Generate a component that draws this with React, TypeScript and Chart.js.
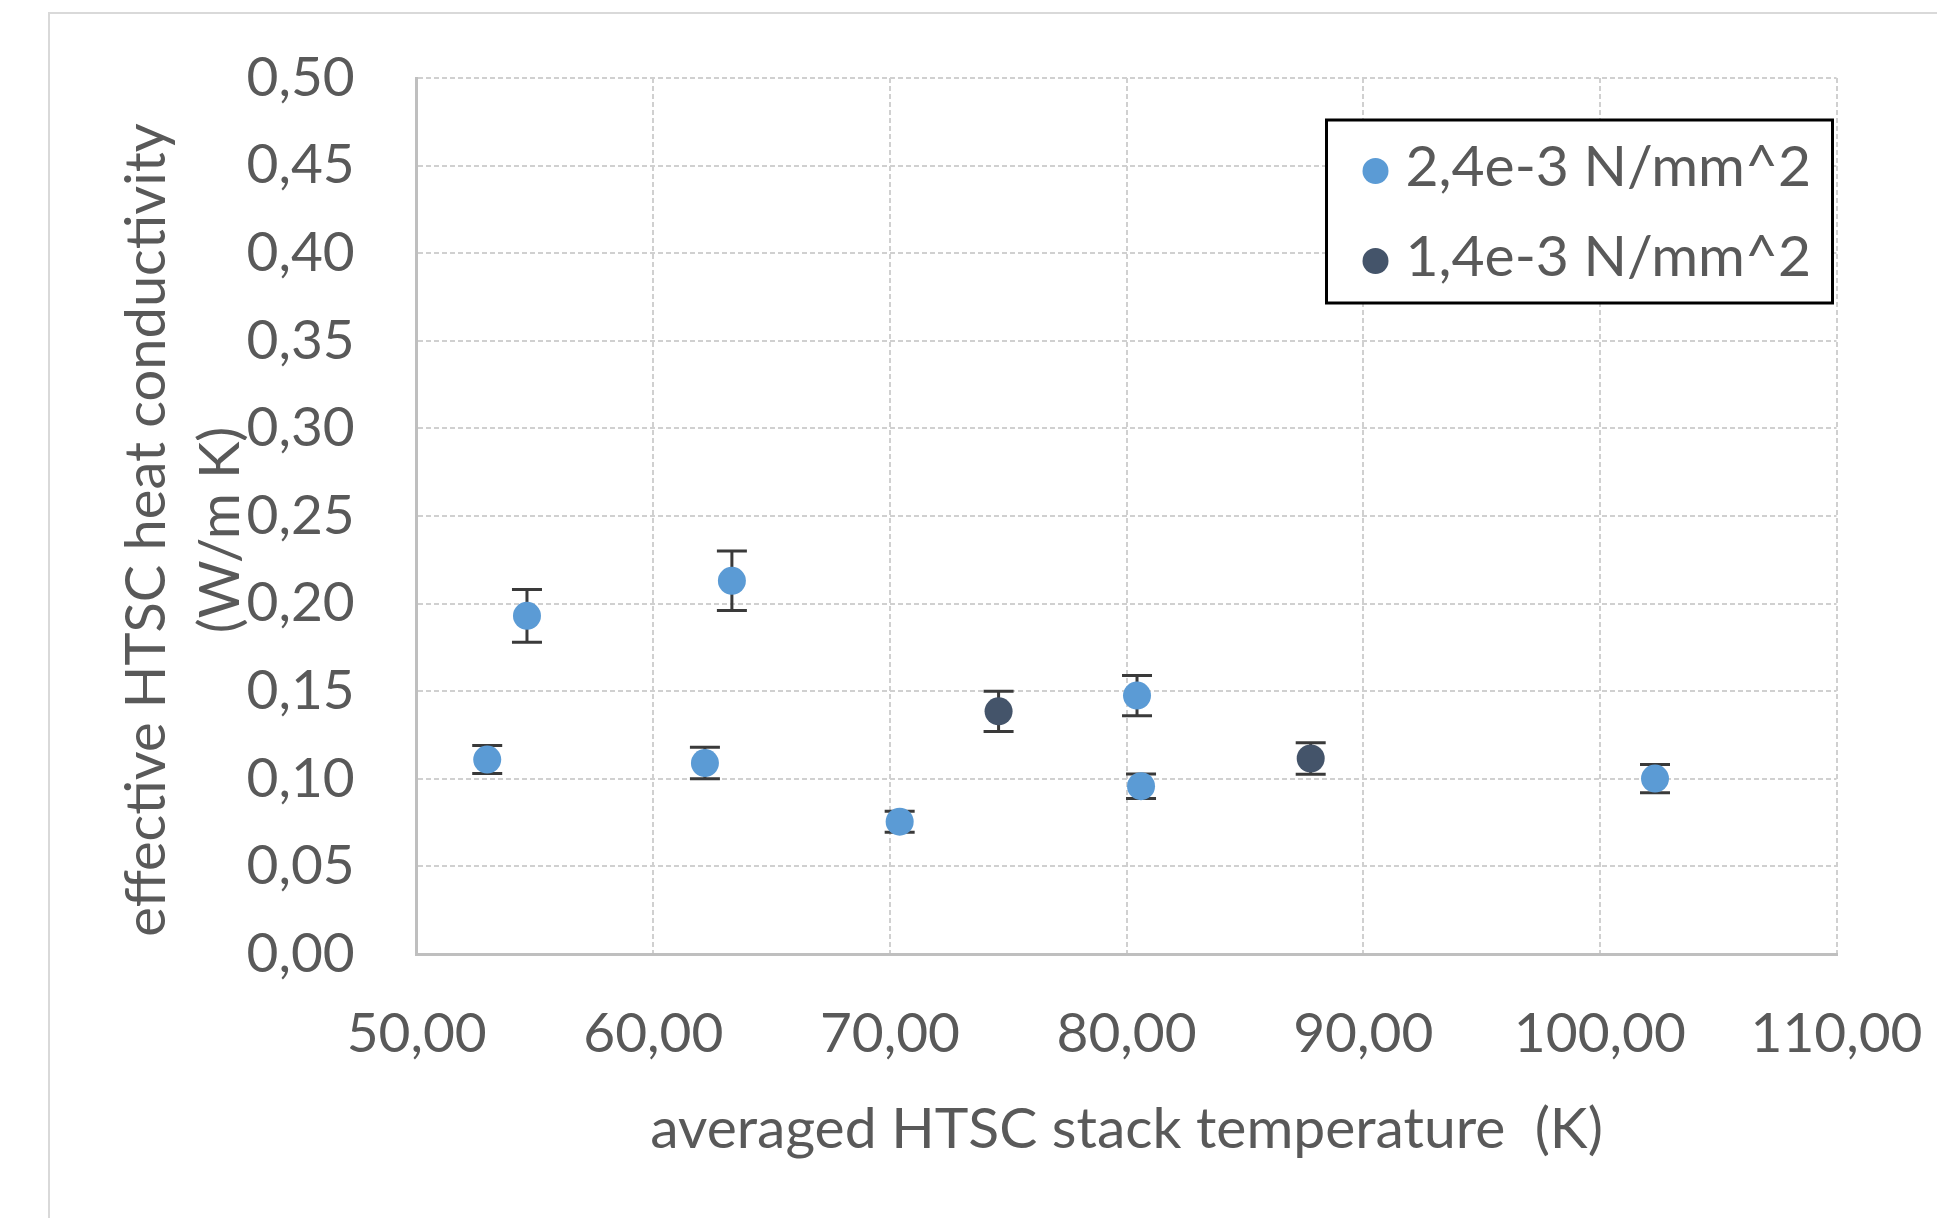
import React, { useEffect, useRef } from 'react';
import { Chart, registerables } from 'chart.js';

Chart.register(...registerables);

// ---- data ----
const seriesNames = ['2,4e-3 N/mm^2', '1,4e-3 N/mm^2'];
const seriesColors = ['#5B9BD5', '#44546A'];

const highX = [52.98, 54.66, 62.18, 63.32, 70.41, 80.44, 80.61, 102.33];
const highY = [0.111, 0.193, 0.109, 0.213, 0.0755, 0.1475, 0.0958, 0.1001];
const highErr = [0.008, 0.015, 0.009, 0.017, 0.006, 0.0115, 0.007, 0.008];

const lowX = [74.59, 87.78];
const lowY = [0.1385, 0.1116];
const lowErr = [0.0115, 0.009];

const xTickValues = [50, 60, 70, 80, 90, 100, 110];
const xTickLabels = ['50,00', '60,00', '70,00', '80,00', '90,00', '100,00', '110,00'];
const yTickValues = [0, 0.05, 0.1, 0.15, 0.2, 0.25, 0.3, 0.35, 0.4, 0.45, 0.5];
const yTickLabels = ['0,00', '0,05', '0,10', '0,15', '0,20', '0,25', '0,30', '0,35', '0,40', '0,45', '0,50'];

const xTitle = 'averaged HTSC stack temperature  (K)';
const yTitleLines = ['effective HTSC heat conductivity', '(W/m K)'];

// ---- styles ----
const FONT = 'Lato';
const TEXT = '#595959';
const W = 1937;
const H = 1218;

const errorBarPlugin = {
  id: 'errorBars',
  beforeDatasetsDraw(chart: any) {
    const { ctx, scales } = chart;
    const xs = scales.x;
    const ys = scales.y;
    ctx.save();
    ctx.strokeStyle = '#3A3A3A';
    ctx.lineWidth = 3;
    chart.data.datasets.forEach((ds: any) => {
      ds.data.forEach((p: any) => {
        const px = xs.getPixelForValue(p.x);
        const pt = ys.getPixelForValue(p.y + p.err);
        const pb = ys.getPixelForValue(p.y - p.err);
        const cap = 15;
        ctx.beginPath();
        ctx.moveTo(px, pt);
        ctx.lineTo(px, pb);
        ctx.moveTo(px - cap, pt);
        ctx.lineTo(px + cap, pt);
        ctx.moveTo(px - cap, pb);
        ctx.lineTo(px + cap, pb);
        ctx.stroke();
      });
    });
    ctx.restore();
  },
};

const titlesPlugin = {
  id: 'customTitles',
  afterDraw(chart: any) {
    const { ctx, chartArea } = chart;
    ctx.save();
    ctx.font = `56px ${FONT}`;
    ctx.fillStyle = TEXT;
    ctx.textAlign = 'center';
    ctx.textBaseline = 'middle';
    const cy = (chartArea.top + chartArea.bottom) / 2 + 14;
    const offsets = [270, 196];
    yTitleLines.forEach((line, i) => {
      ctx.save();
      ctx.translate(chartArea.left - offsets[i], cy);
      ctx.rotate(-Math.PI / 2);
      ctx.fillText(line, 0, 0);
      ctx.restore();
    });
    ctx.restore();
  },
};

const legendPlugin = {
  id: 'boxLegend',
  afterDraw(chart: any) {
    const { ctx, chartArea } = chart;
    const bx = chartArea.right - 510;
    const by = chartArea.top + 42;
    const bw = 506;
    const bh = 183;
    ctx.save();
    ctx.fillStyle = '#ffffff';
    ctx.fillRect(bx, by, bw, bh);
    ctx.lineWidth = 3;
    ctx.strokeStyle = '#000000';
    ctx.strokeRect(bx, by, bw, bh);
    ctx.font = `57px ${FONT}`;
    ctx.textAlign = 'left';
    ctx.textBaseline = 'middle';
    chart.data.datasets.forEach((ds: any, i: number) => {
      const y = by + 48 + i * 90;
      ctx.fillStyle = ds.backgroundColor;
      ctx.beginPath();
      ctx.arc(bx + 49, y + 3, 13, 0, Math.PI * 2);
      ctx.fill();
      ctx.fillStyle = TEXT;
      ctx.fillText(ds.label, bx + 79, y);
    });
    ctx.restore();
  },
};

export default function App() {
  const ref = useRef<HTMLCanvasElement>(null);

  useEffect(() => {
    if (!ref.current) return;
    const mk = (xs: number[], ys: number[], es: number[]) =>
      xs.map((x, i) => ({ x, y: ys[i], err: es[i] }));

    const chart = new Chart(ref.current, {
      type: 'scatter',
      data: {
        datasets: [
          {
            label: seriesNames[0],
            data: mk(highX, highY, highErr),
            backgroundColor: seriesColors[0],
            borderColor: seriesColors[0],
            pointRadius: 14,
            pointBorderWidth: 0,
          },
          {
            label: seriesNames[1],
            data: mk(lowX, lowY, lowErr),
            backgroundColor: seriesColors[1],
            borderColor: seriesColors[1],
            pointRadius: 14,
            pointBorderWidth: 0,
          },
        ] as any,
      },
      options: {
        animation: false,
        responsive: false,
        maintainAspectRatio: false,
        devicePixelRatio: 1,
        events: [],
        layout: { autoPadding: false, padding: { left: 0, right: 100.5, top: 78, bottom: 0 } },
        plugins: {
          legend: { display: false },
          tooltip: { enabled: false },
          title: { display: false },
        },
        scales: {
          x: {
            type: 'linear',
            min: 50,
            max: 110,
            afterBuildTicks: (s: any) => {
              s.ticks = xTickValues.map((v) => ({ value: v }));
            },
            afterFit: (s: any) => {
              s.height = H - 954;
              s.paddingLeft = 0;
              s.paddingRight = 0;
            },
            ticks: {
              callback: (_v: any, i: number) => xTickLabels[i],
              padding: 47,
              color: TEXT,
              font: { family: FONT, size: 55 },
              maxRotation: 0,
              autoSkip: false,
            },
            grid: { color: '#D0D0D0', lineWidth: 2, drawTicks: false },
            border: { display: true, color: '#BFBFBF', width: 3, dash: [5, 3] },
            title: {
              display: true,
              text: xTitle,
              color: TEXT,
              font: { family: FONT, size: 57 },
              padding: { top: 0, bottom: 54 },
            },
          },
          y: {
            type: 'linear',
            min: 0,
            max: 0.5,
            afterBuildTicks: (s: any) => {
              s.ticks = yTickValues.map((v) => ({ value: v }));
            },
            afterFit: (s: any) => {
              s.width = 416.7;
              s.paddingTop = 0;
              s.paddingBottom = 0;
            },
            ticks: {
              callback: (_v: any, i: number) => yTickLabels[i],
              padding: 62,
              color: TEXT,
              font: { family: FONT, size: 55 },
              autoSkip: false,
            },
            grid: { color: '#D0D0D0', lineWidth: 2, drawTicks: false },
            border: { display: true, color: '#BFBFBF', width: 3, dash: [5, 3] },
          },
        },
      } as any,
      plugins: [errorBarPlugin, titlesPlugin, legendPlugin],
    });
    return () => chart.destroy();
  }, []);

  return (
    <div
      style={{
        position: 'fixed',
        left: 0,
        top: 0,
        width: W,
        height: H,
        background: '#ffffff',
        overflow: 'hidden',
      }}
    >
      <div
        style={{
          position: 'absolute',
          left: 48,
          top: 12,
          right: -10,
          bottom: -10,
          borderLeft: '2px solid #D9D9D9',
          borderTop: '2px solid #D9D9D9',
        }}
      />
      <canvas
        ref={ref}
        width={W}
        height={H}
        style={{ position: 'absolute', left: 0, top: 0, width: W, height: H }}
      />
    </div>
  );
}
